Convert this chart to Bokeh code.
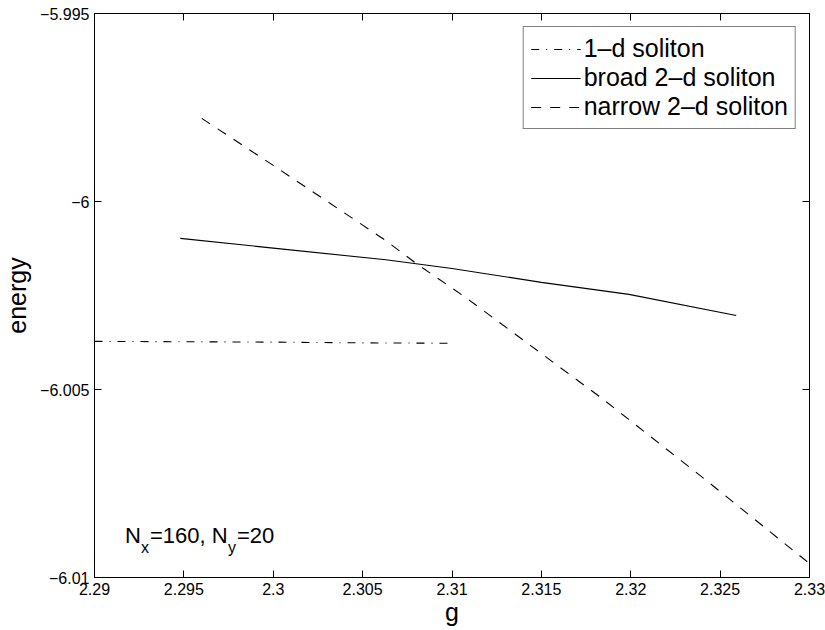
from bokeh.plotting import figure
from bokeh.models import LinearAxis, FixedTicker, Label, CustomJSTickFormatter
from bokeh.embed import file_html
from bokeh.resources import INLINE

# ---- data ----
g_1d = [2.2900, 2.2950, 2.3000, 2.3050, 2.3100]
E_1d = [-6.00372, -6.00373, -6.00374, -6.00376, -6.00377]

g_broad = [2.2948, 2.3000, 2.3063, 2.3100, 2.3150, 2.3199, 2.3259]
E_broad = [-6.00098, -6.00124, -6.00155, -6.00178, -6.00215, -6.00247, -6.00303]

g_narrow = [2.2960, 2.3000, 2.3063, 2.3080, 2.3107, 2.3184, 2.3241, 2.3300]
E_narrow = [-5.99779, -5.99904, -6.00104, -6.00165, -6.00253, -6.00524, -6.00737, -6.00963]

x_ticks = [2.29, 2.295, 2.30, 2.305, 2.31, 2.315, 2.32, 2.325, 2.33]
x_tick_labels = ["2.29", "2.295", "2.3", "2.305", "2.31", "2.315", "2.32", "2.325", "2.33"]
y_ticks = [-6.01, -6.005, -6.0, -5.995]
y_tick_labels = ["\u22126.01", "\u22126.005", "\u22126", "\u22125.995"]

series_names = ["1\u2013d soliton", "broad 2\u2013d soliton", "narrow 2\u2013d soliton"]

FONT = "Liberation Sans"


def fmt(ticks, labels):
    return CustomJSTickFormatter(
        args=dict(tv=ticks, tl=labels),
        code="""
        for (let i = 0; i < tv.length; i++) {
            if (Math.abs(tv[i] - tick) < 1e-9) { return tl[i]; }
        }
        return '';
        """,
    )


p = figure(
    frame_width=715, frame_height=564,
    x_range=(2.29, 2.33), y_range=(-6.01, -5.995),
    output_backend="svg", toolbar_location=None,
    min_border_left=92, min_border_right=18,
    min_border_top=13, min_border_bottom=53,
)
p.xgrid.visible = False
p.ygrid.visible = False
p.outline_line_color = "black"
p.outline_line_width = 1
p.background_fill_color = "white"
p.border_fill_color = "white"


def style_axis(ax, ticks, labels, show_labels=True):
    ax.ticker = FixedTicker(ticks=ticks)
    ax.minor_tick_line_color = None
    ax.major_tick_in = 7
    ax.major_tick_out = 0
    ax.major_tick_line_color = "black"
    ax.axis_line_color = "black"
    if show_labels:
        ax.formatter = fmt(ticks, labels)
        ax.major_label_text_font = FONT
        ax.major_label_text_font_size = "16px"
        ax.major_label_text_color = "black"
        ax.axis_label_text_font = FONT
        ax.axis_label_text_font_style = "normal"
        ax.axis_label_text_color = "black"
        ax.axis_label_text_font_size = "25px"
        ax.axis_label_standoff = 2
    else:
        ax.major_label_text_font_size = "1px"
        ax.major_label_text_alpha = 0
        ax.major_label_standoff = 4


xa = p.xaxis[0]
style_axis(xa, x_ticks, x_tick_labels)
xa.axis_label = "g"
xa.major_label_standoff = 5
xa.axis_label_standoff = 0

ya = p.yaxis[0]
style_axis(ya, y_ticks, y_tick_labels)
ya.axis_label = "energy"
ya.major_label_standoff = 5
ya.axis_label_standoff = 6

top_ax = LinearAxis()
style_axis(top_ax, x_ticks, x_tick_labels, show_labels=False)
p.add_layout(top_ax, "above")
right_ax = LinearAxis()
style_axis(right_ax, y_ticks, y_tick_labels, show_labels=False)
p.add_layout(right_ax, "right")

p.line(g_1d, E_1d, line_color="black", line_width=1.1, line_dash="8 7 1 7",
       legend_label=series_names[0])
p.line(g_broad, E_broad, line_color="black", line_width=1.1,
       legend_label=series_names[1])
p.line(g_narrow, E_narrow, line_color="black", line_width=1.1, line_dash="10 9",
       legend_label=series_names[2])

lg = p.legend[0]
lg.location = "top_right"
lg.margin = 13
lg.padding = 7
lg.spacing = -3
lg.label_standoff = 3
lg.glyph_width = 50
lg.glyph_height = 20
lg.label_height = 20
lg.label_text_font = FONT
lg.label_text_font_size = "25px"
lg.label_text_color = "black"
lg.border_line_color = "black"
lg.border_line_width = 1
lg.background_fill_color = "white"
lg.background_fill_alpha = 1.0

# annotation N_x=160, N_y=20
ax0, ay0 = 2.2917, -6.00889
pieces = [
    ("N", 0, 0, "22px"),
    ("x", 16, -12, "16px"),
    ("=160, N", 25, 0, "22px"),
    ("y", 103, -12, "16px"),
    ("=20", 112, 0, "22px"),
]
for txt, dx, dy, fs in pieces:
    p.add_layout(Label(x=ax0, y=ay0, x_offset=dx, y_offset=dy, text=txt,
                       text_font=FONT, text_font_size=fs, text_color="black",
                       text_baseline="alphabetic", text_align="left"))

open("out.html", "w").write(file_html(p, INLINE))
